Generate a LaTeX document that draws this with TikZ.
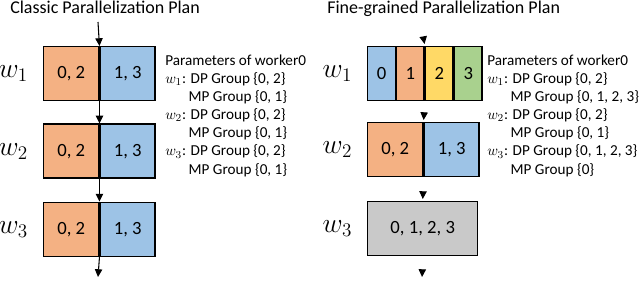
\documentclass[tikz,border=0pt]{standalone}
\usepackage{fontspec}
\setmainfont{Carlito}
\usetikzlibrary{arrows.meta,positioning}
\definecolor{cellorange}{HTML}{F4B183}
\definecolor{cellblue}{HTML}{9DC3E6}
\definecolor{cellyellow}{HTML}{FFD966}
\definecolor{cellgreen}{HTML}{A9D18E}
\definecolor{cellgray}{HTML}{C9C9C9}

\begin{document}
\begin{tikzpicture}[
				x=0.75pt, y=-0.75pt,
				cell/.style={rectangle, draw, line width=1.1pt, minimum width=41.25pt, minimum height=40.5pt, inner sep=0pt, font=\fontsize{14}{16}\selectfont},
				thincell/.style={cell, minimum width=20.625pt},
				widecell/.style={cell, minimum width=82.5pt},
				wlabel/.style={inner sep=0pt, font=\fontsize{20}{24}\selectfont},
				title/.style={inner sep=0pt, anchor=base west, font=\fontsize{13.5}{16}\selectfont},
				params/.style={inner sep=0pt, align=left, anchor=north west, font=\fontsize{11.4}{13.6}\selectfont},
				arrow/.style={line width=0.8pt, -{Triangle[width=5.5pt,length=5.8pt]}},
				tiponly/.style={draw=white, line width=0.8pt, shorten <=1pt, shorten >=1.5pt, -{Triangle[color=black,width=5.5pt,length=5.8pt]}}
				]
				\useasboundingbox (0,0) rectangle (640,305);
				
				% classic plan
				\node (tl) [title] at (10,13) {Classic Parallelization Plan};
				\node (c1a) [cell, fill=cellorange, anchor=north west] at (43,46) {0, 2};
				\node (c1b) [cell, fill=cellblue, right=0pt of c1a] {1, 3};
				\node (c2a) [cell, fill=cellorange, below=16.5pt of c1a] {0, 2};
				\node (c2b) [cell, fill=cellblue, right=0pt of c2a] {1, 3};
				\node (c3a) [cell, fill=cellorange, below=17pt of c2a] {0, 2};
				\node (c3b) [cell, fill=cellblue, right=0pt of c3a] {1, 3};
				\node (lw1) [wlabel, left=11pt of c1a] {$w_1$};
				\node (lw2) [wlabel, left=11pt of c2a] {$w_2$};
				\node (lw3) [wlabel, left=11pt of c3a] {$w_3$};
				\node (lp) [params] at (165,54.5) {Parameters of worker0\\
					$w_1$: DP Group \{0, 2\}\\
					\phantom{$w_1$:}\,MP Group \{0, 1\}\\
					$w_2$: DP Group \{0, 2\}\\
					\phantom{$w_2$:}\,MP Group \{0, 1\}\\
					$w_3$: DP Group \{0, 2\}\\
					\phantom{$w_3$:}\,MP Group \{0, 1\}};
				\coordinate (lin) at (98,22);
				\coordinate (lout) at (98,277);
				
				% fine-grained plan
				\node (tr) [title] at (327,13) {Fine-grained Parallelization Plan};
				\node (r1a) [thincell, fill=cellblue, anchor=north west] at (367,46) {0};
				\node (r1b) [thincell, fill=cellorange, right=0pt of r1a] {1};
				\node (r1c) [thincell, fill=cellyellow, right=0pt of r1b] {2};
				\node (r1d) [thincell, fill=cellgreen, right=0pt of r1c] {3};
				\node (r2a) [cell, fill=cellorange, anchor=north west] at (367,122) {0, 2};
				\node (r2b) [cell, fill=cellblue, right=0pt of r2a] {1, 3};
				\node (r3) [widecell, fill=cellgray, anchor=north west] at (367,201) {0, 1, 2, 3};
				\node (rw1) [wlabel, left=11pt of r1a] {$w_1$};
				\node (rw2) [wlabel, left=11pt of r2a] {$w_2$};
				\node (rw3) [wlabel, left=11pt of r3] {$w_3$};
				\node (rp) [params] at (487,54.5) {Parameters of worker0\\
					$w_1$: DP Group \{0, 2\}\\
					\phantom{$w_1$:}\,MP Group \{0, 1, 2, 3\}\\
					$w_2$: DP Group \{0, 2\}\\
					\phantom{$w_2$:}\,MP Group \{0, 1\}\\
					$w_3$: DP Group \{0, 1, 2, 3\}\\
					\phantom{$w_3$:}\,MP Group \{0\}};
				\coordinate (rin) at (422,30);
				\coordinate (rout) at (422,279);
				
				\draw [arrow] (lin) -- (c1a.north east);
				\draw [arrow] (c1a.south east) -- (c2a.north east);
				\draw [arrow] (c2a.south east) -- (c3a.north east);
				\draw [arrow] (c3a.south east) -- (lout);
				\draw [tiponly] (rin) -- (r1c.north west);
				\draw [tiponly] (r1c.south west) -- (r2b.north west);
				\draw [tiponly] (r2b.south west) -- (r3.north);
				\draw [tiponly] (r3.south) -- (rout);
			\end{tikzpicture}
\end{document}
